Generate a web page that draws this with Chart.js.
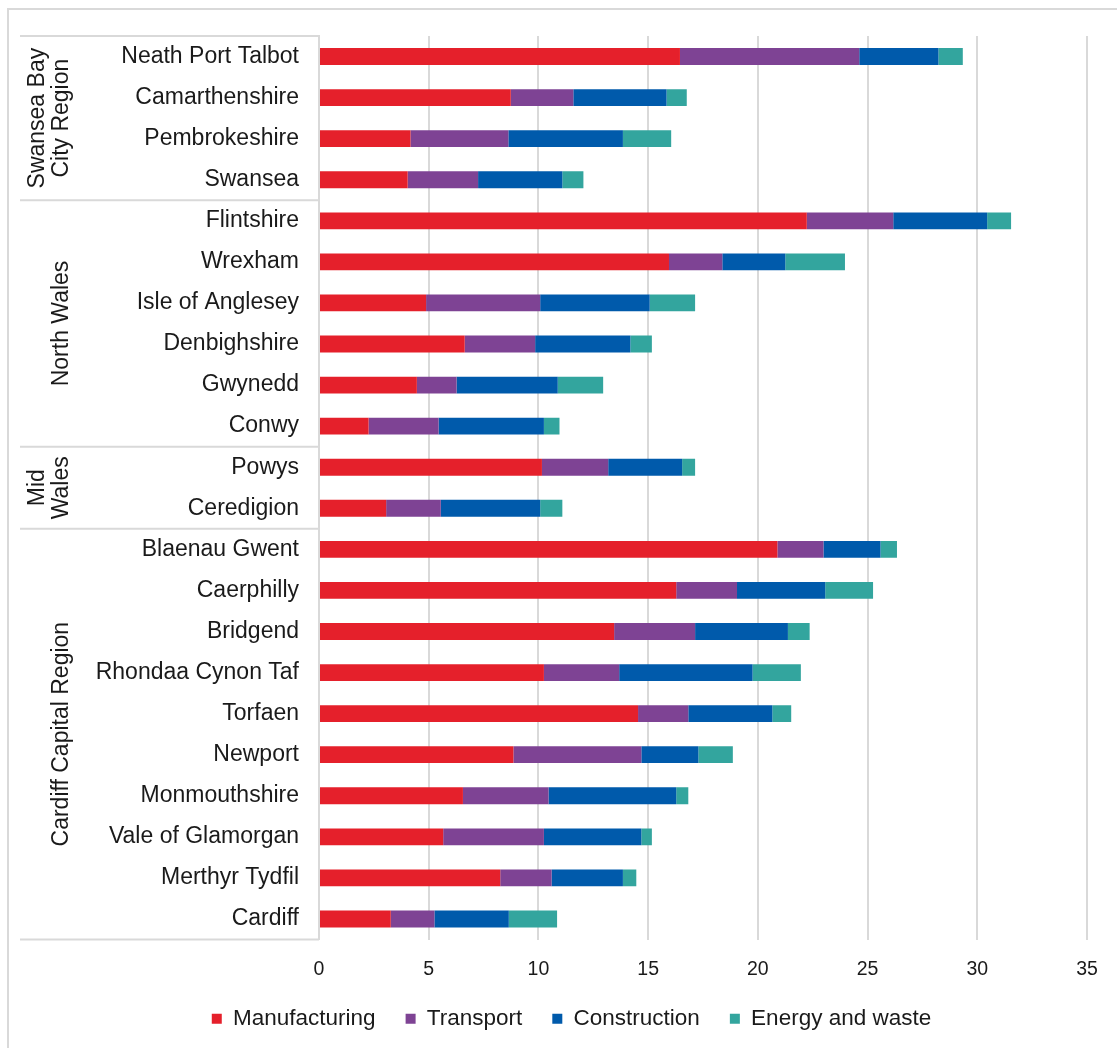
<!DOCTYPE html>
<html>
<head>
<meta charset="utf-8">
<script src="https://cdn.jsdelivr.net/npm/chart.js@4.4.1/dist/chart.umd.min.js"></script>
<style>
  html, body { margin: 0; padding: 0; background: #fff; overflow: hidden; }
  #wrap { position: relative; width: 1117px; height: 1048px; }
  #frame { position: absolute; left: 7px; top: 8px; width: 1200px; height: 1200px;
           border-left: 2px solid #d9d9d9; border-top: 2px solid #d9d9d9; }
  canvas { position: absolute; left: 0; top: 0; }
</style>
</head>
<body>
<div id="wrap">
  <div id="frame"></div>
  <canvas id="chart" width="1117" height="1048"></canvas>
</div>
<script>
const categories = [
  'Neath Port Talbot', 'Camarthenshire', 'Pembrokeshire', 'Swansea',
  'Flintshire', 'Wrexham', 'Isle of Anglesey', 'Denbighshire', 'Gwynedd', 'Conwy',
  'Powys', 'Ceredigion',
  'Blaenau Gwent', 'Caerphilly', 'Bridgend', 'Rhondaa Cynon Taf', 'Torfaen',
  'Newport', 'Monmouthshire', 'Vale of Glamorgan', 'Merthyr Tydfil', 'Cardiff'
];

// region groups, in order, with how many categories each covers
const groupNames = [['Swansea Bay', 'City Region'], ['North Wales'], ['Mid', 'Wales'], ['Cardiff Capital Region']];
const groupSizes = [4, 6, 2, 10];

const manufacturing = [16.45, 8.74, 4.17, 4.04, 22.23, 15.95, 4.88, 6.64, 4.46, 2.26, 10.16, 3.06,
  20.89, 16.28, 13.45, 10.25, 14.54, 8.86, 6.56, 5.66, 8.26, 3.27];
const transport = [8.17, 2.85, 4.46, 3.21, 3.94, 2.43, 5.20, 3.21, 1.81, 3.19, 3.02, 2.49,
  2.10, 2.77, 3.69, 3.43, 2.29, 5.83, 3.90, 4.59, 2.34, 1.99];
const construction = [3.61, 4.25, 5.22, 3.84, 4.28, 2.87, 4.99, 4.34, 4.61, 4.80, 3.37, 4.53,
  2.60, 4.02, 4.23, 6.08, 3.83, 2.60, 5.82, 4.44, 3.25, 3.39];
const energyWaste = [1.11, 0.92, 2.20, 0.96, 1.09, 2.72, 2.07, 0.98, 2.07, 0.71, 0.59, 1.01,
  0.75, 2.18, 0.99, 2.20, 0.86, 1.57, 0.55, 0.48, 0.61, 2.20];

const xTicks = [0, 5, 10, 15, 20, 25, 30, 35];

const textColor = '#1a1a1a';
const lineColor = '#d9d9d9';
const fontFamily = '"Liberation Sans", Arial, sans-serif';

Chart.defaults.font.family = fontFamily;
Chart.defaults.color = textColor;

// draws the region separators and rotated region names left of the labels
const groupAxis = {
  id: 'groupAxis',
  afterDraw(chart) {
    const ctx = chart.ctx;
    const y = chart.scales.y;
    const area = chart.chartArea;
    const left = 20;
    const right = area.left;

    ctx.save();
    ctx.strokeStyle = lineColor;
    ctx.lineWidth = 2;

    let start = 0;
    const bounds = [area.top];
    groupSizes.forEach((n, i) => {
      const end = start + n;
      let bottom;
      if (end >= categories.length) {
        bottom = area.bottom;
      } else {
        bottom = (y.getPixelForValue(end - 1) + y.getPixelForValue(end)) / 2;
      }
      bounds.push(bottom);

      // name
      const top = bounds[i];
      const mid = (top + bottom) / 2;
      const lines = groupNames[i];
      ctx.save();
      ctx.translate(62, mid);
      ctx.rotate(-Math.PI / 2);
      ctx.fillStyle = textColor;
      ctx.font = '23px ' + fontFamily;
      ctx.textAlign = 'center';
      ctx.textBaseline = 'middle';
      lines.forEach((txt, k) => {
        const off = (lines.length - 1 - k) * 24;
        ctx.fillText(txt, 0, -off);
      });
      ctx.restore();

      start = end;
    });

    bounds.forEach(b => {
      ctx.beginPath();
      ctx.moveTo(left, b);
      ctx.lineTo(right, b);
      ctx.stroke();
    });
    ctx.restore();
  }
};

const ctx = document.getElementById('chart').getContext('2d');

new Chart(ctx, {
  type: 'bar',
  data: {
    labels: categories,
    datasets: [{
      label: 'Manufacturing',
      data: manufacturing,
      backgroundColor: '#e5202b'
    }, {
      label: 'Transport',
      data: transport,
      backgroundColor: '#7e4394'
    }, {
      label: 'Construction',
      data: construction,
      backgroundColor: '#005aab'
    }, {
      label: 'Energy and waste',
      data: energyWaste,
      backgroundColor: '#33a59e'
    }]
  },
  options: {
    indexAxis: 'y',
    responsive: false,
    animation: false,
    categoryPercentage: 1,
    barPercentage: 0.41,
    layout: {
      padding: { top: 36, right: 30, left: 56, bottom: 8 }
    },
    scales: {
      x: {
        stacked: true,
        min: 0,
        max: 35,
        afterBuildTicks: (s) => { s.ticks = xTicks.map(v => ({ value: v })); },
        afterFit: (s) => { s.height = 38; },
        ticks: {
          padding: 18,
          color: textColor,
          font: { size: 19.5 }
        },
        grid: {
          color: lineColor,
          lineWidth: 2,
          drawTicks: false
        },
        border: { display: false }
      },
      y: {
        stacked: true,
        afterFit: (s) => { s.width = 263; },
        ticks: {
          padding: 20,
          color: textColor,
          font: { size: 23 }
        },
        grid: {
          display: false,
          drawTicks: false
        },
        border: { display: true, color: lineColor, width: 2 }
      }
    },
    plugins: {
      legend: {
        position: 'bottom',
        labels: {
          boxWidth: 10,
          boxHeight: 10,
          padding: 30,
          color: textColor,
          font: { size: 22.5 }
        }
      },
      tooltip: { enabled: false }
    }
  },
  plugins: [groupAxis]
});
</script>
</body>
</html>
